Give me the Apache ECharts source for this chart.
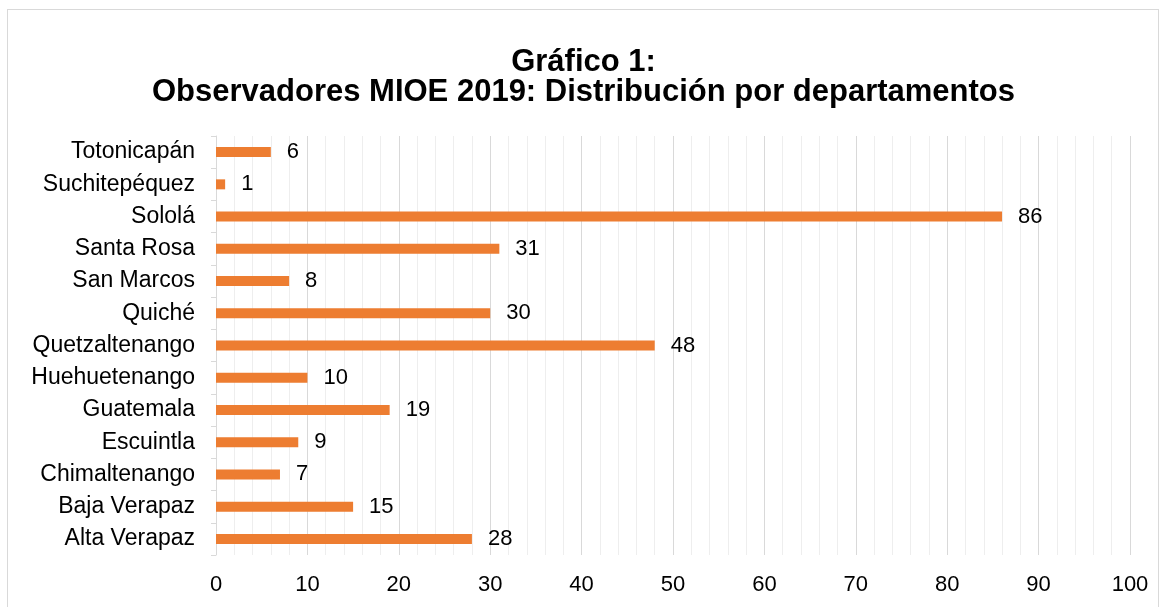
<!DOCTYPE html>
<html>
<head>
<meta charset="utf-8">
<script src="https://cdn.jsdelivr.net/npm/echarts@6/dist/echarts.min.js"></script>
<style>
  html, body { margin: 0; padding: 0; background: #fff; }
  #frame {
    position: absolute; left: 7px; top: 9px; width: 1152px; height: 610px;
    border: 1px solid #d9d9d9; box-sizing: border-box;
  }
  #chart { position: absolute; left: 0; top: 0; width: 1167px; height: 607px; }
</style>
</head>
<body>
<div id="frame"></div>
<div id="chart"></div>
<script>
// categories bottom to top, as ECharts draws category y axes
const departamentos = ['Alta Verapaz', 'Baja Verapaz', 'Chimaltenango', 'Escuintla', 'Guatemala',
  'Huehuetenango', 'Quetzaltenango', 'Quiché', 'San Marcos', 'Santa Rosa', 'Sololá',
  'Suchitepéquez', 'Totonicapán']
const observadores = [28, 15, 7, 9, 19, 10, 48, 30, 8, 31, 86, 1, 6]

const fontFamily = '"Liberation Sans", Arial, sans-serif'

const chart = echarts.init(document.getElementById('chart'))
chart.setOption({
  animation: false,
  title: {
    text: 'Gráfico 1:\nObservadores MIOE 2019: Distribución por departamentos',
    left: 'center',
    top: 42,
    textStyle: {
      color: '#000',
      fontFamily,
      fontSize: 31,
      fontWeight: 'bold',
      lineHeight: 30
    }
  },
  grid: {
    left: 216,
    right: 37,
    top: 136,
    bottom: 52
  },
  xAxis: {
    type: 'value',
    min: 0,
    max: 100,
    interval: 10,
    axisLine: { show: false },
    axisTick: { show: false },
    axisLabel: {
      color: '#000',
      fontFamily,
      fontSize: 22,
      margin: 19
    },
    splitLine: {
      lineStyle: { color: '#d9d9d9', width: 1 }
    },
    minorTick: { show: false, splitNumber: 5 },
    minorSplitLine: {
      show: true,
      lineStyle: { color: '#eeeeee', width: 1 }
    }
  },
  yAxis: {
    type: 'category',
    data: departamentos,
    axisLine: {
      lineStyle: { color: '#d9d9d9', width: 1 }
    },
    axisTick: {
      show: true,
      length: 5,
      lineStyle: { color: '#d9d9d9' }
    },
    axisLabel: {
      color: '#000',
      fontFamily,
      fontSize: 23,
      margin: 21
    }
  },
  series: [{
    type: 'bar',
    data: observadores,
    barWidth: 10,
    itemStyle: { color: '#ED7D31' },
    label: {
      show: true,
      position: 'right',
      distance: 16,
      color: '#000',
      fontFamily,
      fontSize: 22
    }
  }]
})
</script>
</body>
</html>
